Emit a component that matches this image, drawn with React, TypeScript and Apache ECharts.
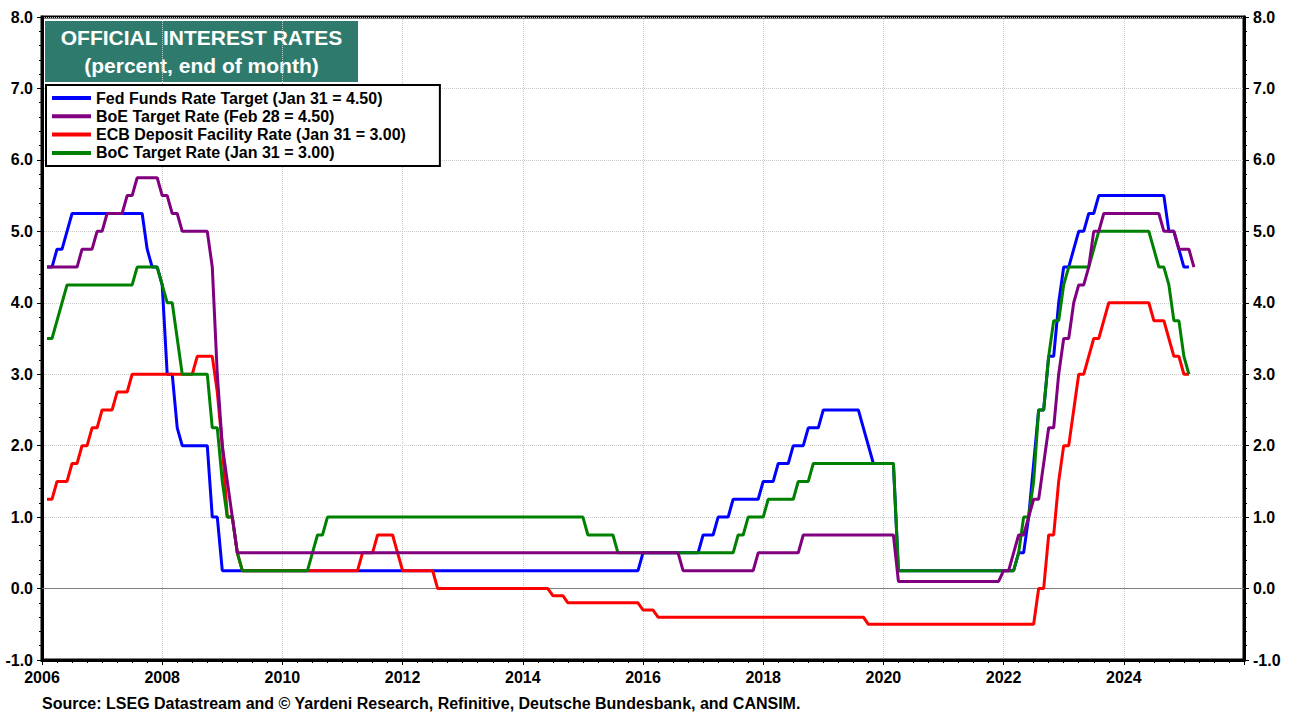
import React, { useEffect, useRef } from "react";
import * as echarts from "echarts";

// Month-end policy rates, encoded as runs: [first month "YYYY-MM", value held from that month on]
const fedRuns: [string, number][] = [
  ["2006-01", 4.5], ["2006-03", 4.75], ["2006-05", 5.0], ["2006-06", 5.25],
  ["2007-09", 4.75], ["2007-10", 4.5], ["2007-12", 4.25],
  ["2008-01", 3.0], ["2008-03", 2.25], ["2008-04", 2.0], ["2008-10", 1.0], ["2008-12", 0.25],
  ["2015-12", 0.5], ["2016-12", 0.75], ["2017-03", 1.0], ["2017-06", 1.25], ["2017-12", 1.5],
  ["2018-03", 1.75], ["2018-06", 2.0], ["2018-09", 2.25], ["2018-12", 2.5],
  ["2019-08", 2.25], ["2019-09", 2.0], ["2019-10", 1.75], ["2020-03", 0.25],
  ["2022-03", 0.5], ["2022-05", 1.0], ["2022-06", 1.75], ["2022-07", 2.5], ["2022-09", 3.25],
  ["2022-11", 4.0], ["2022-12", 4.5], ["2023-02", 4.75], ["2023-03", 5.0], ["2023-05", 5.25],
  ["2023-07", 5.5], ["2024-09", 5.0], ["2024-11", 4.75], ["2024-12", 4.5],
];
const fedEnd = "2025-01";

const boeRuns: [string, number][] = [
  ["2006-01", 4.5], ["2006-08", 4.75], ["2006-11", 5.0], ["2007-01", 5.25], ["2007-05", 5.5],
  ["2007-07", 5.75], ["2007-12", 5.5], ["2008-02", 5.25], ["2008-04", 5.0], ["2008-10", 4.5],
  ["2008-11", 3.0], ["2008-12", 2.0], ["2009-01", 1.5], ["2009-02", 1.0], ["2009-03", 0.5],
  ["2016-08", 0.25], ["2017-11", 0.5], ["2018-08", 0.75], ["2020-03", 0.1], ["2021-12", 0.25],
  ["2022-02", 0.5], ["2022-03", 0.75], ["2022-05", 1.0], ["2022-06", 1.25], ["2022-08", 1.75],
  ["2022-09", 2.25], ["2022-11", 3.0], ["2022-12", 3.5], ["2023-02", 4.0], ["2023-03", 4.25],
  ["2023-05", 4.5], ["2023-06", 5.0], ["2023-08", 5.25], ["2024-08", 5.0], ["2024-11", 4.75],
  ["2025-02", 4.5],
];
const boeEnd = "2025-02";

const ecbRuns: [string, number][] = [
  ["2006-01", 1.25], ["2006-03", 1.5], ["2006-06", 1.75], ["2006-08", 2.0], ["2006-10", 2.25],
  ["2006-12", 2.5], ["2007-03", 2.75], ["2007-06", 3.0], ["2008-07", 3.25], ["2008-11", 2.75],
  ["2008-12", 2.0], ["2009-01", 1.0], ["2009-03", 0.5], ["2009-04", 0.25],
  ["2011-04", 0.5], ["2011-07", 0.75], ["2011-11", 0.5], ["2011-12", 0.25], ["2012-07", 0.0],
  ["2014-06", -0.1], ["2014-09", -0.2], ["2015-12", -0.3], ["2016-03", -0.4], ["2019-09", -0.5],
  ["2022-07", 0.0], ["2022-09", 0.75], ["2022-11", 1.5], ["2022-12", 2.0], ["2023-02", 2.5],
  ["2023-03", 3.0], ["2023-05", 3.25], ["2023-06", 3.5], ["2023-08", 3.75], ["2023-09", 4.0],
  ["2024-06", 3.75], ["2024-09", 3.5], ["2024-10", 3.25], ["2024-12", 3.0],
];
const ecbEnd = "2025-01";

const bocRuns: [string, number][] = [
  ["2006-01", 3.5], ["2006-03", 3.75], ["2006-04", 4.0], ["2006-05", 4.25], ["2007-07", 4.5],
  ["2007-12", 4.25], ["2008-01", 4.0], ["2008-03", 3.5], ["2008-04", 3.0], ["2008-10", 2.25],
  ["2008-12", 1.5], ["2009-01", 1.0], ["2009-03", 0.5], ["2009-04", 0.25],
  ["2010-06", 0.5], ["2010-07", 0.75], ["2010-09", 1.0], ["2015-01", 0.75], ["2015-07", 0.5],
  ["2017-07", 0.75], ["2017-09", 1.0], ["2018-01", 1.25], ["2018-07", 1.5], ["2018-10", 1.75],
  ["2020-03", 0.25], ["2022-03", 0.5], ["2022-04", 1.0], ["2022-06", 1.5], ["2022-07", 2.5],
  ["2022-09", 3.25], ["2022-10", 3.75], ["2022-12", 4.25], ["2023-01", 4.5], ["2023-06", 4.75],
  ["2023-07", 5.0], ["2024-06", 4.75], ["2024-07", 4.5], ["2024-09", 4.25], ["2024-10", 3.75],
  ["2024-12", 3.25], ["2025-01", 3.0],
];
const bocEnd = "2025-01";

const seriesNames = [
  "Fed Funds Rate Target (Jan 31 = 4.50)",
  "BoE Target Rate (Feb 28 = 4.50)",
  "ECB Deposit Facility Rate (Jan 31 = 3.00)",
  "BoC Target Rate (Jan 31 = 3.00)",
];
const xTickYears = [2006, 2008, 2010, 2012, 2014, 2016, 2018, 2020, 2022, 2024];
const titleLines = ["OFFICIAL INTEREST RATES", "(percent, end of month)"];
const sourceText =
  "Source: LSEG Datastream and \u00A9 Yardeni Research, Refinitive, Deutsche Bundesbank, and CANSIM.";

const FONT = "'Liberation Sans', Arial, Helvetica, sans-serif";

function monthIdx(s: string): number {
  const [y, m] = s.split("-").map(Number);
  return y * 12 + (m - 1);
}

// expand runs to one point per month-end (x in decimal years)
function expand(runs: [string, number][], end: string): [number, number][] {
  const pts: [number, number][] = [];
  const endI = monthIdx(end);
  for (let r = 0; r < runs.length; r++) {
    const start = monthIdx(runs[r][0]);
    const stop = r + 1 < runs.length ? monthIdx(runs[r + 1][0]) - 1 : endI;
    for (let i = start; i <= stop; i++) {
      pts.push([Math.floor(i / 12) + ((i % 12) + 1) / 12, runs[r][1]]);
    }
  }
  return pts;
}

export default function App() {
  const ref = useRef<HTMLDivElement>(null);
  useEffect(() => {
    if (!ref.current) return;
    const chart = echarts.init(ref.current, undefined, { renderer: "svg" });
    const yAxisBase = {
      type: "value" as const,
      min: -1,
      max: 8,
      interval: 1,
      axisLine: { show: true, lineStyle: { color: "#000", width: 3 } },
      axisTick: { show: true, length: 5, lineStyle: { color: "#000", width: 1 } },
      minorTick: { show: true, splitNumber: 5, length: 3, lineStyle: { color: "#000", width: 1 } },
      axisLabel: {
        formatter: (v: number) => v.toFixed(1),
        color: "#000",
        fontWeight: "bold" as const,
        fontSize: 16,
        fontFamily: FONT,
        margin: 9,
      },
    };
    const line = (name: string, data: [number, number][], color: string, extra: any = {}) => ({
      name,
      type: "line",
      data,
      yAxisIndex: 0,
      showSymbol: false,
      symbol: "none",
      color,
      lineStyle: { color, width: 3 },
      ...extra,
    });
    chart.setOption({
      animation: false,
      backgroundColor: "#ffffff",
      grid: { left: 42, right: 48, top: 17, bottom: 55, show: true, borderColor: "#000", borderWidth: 3 },
      xAxis: {
        type: "value",
        min: 2006,
        max: 2026,
        interval: 2,
        axisLine: { show: true, onZero: false, lineStyle: { color: "#000", width: 3 } },
        axisTick: { show: true, length: 5, lineStyle: { color: "#000", width: 1 } },
        minorTick: { show: true, splitNumber: 8, length: 3, lineStyle: { color: "#000", width: 1 } },
        splitLine: { show: true, lineStyle: { color: "#c8c8c8", type: "dotted", width: 1 } },
        axisLabel: {
          formatter: (v: number) => (xTickYears.indexOf(v) >= 0 ? String(v) : ""),
          color: "#000",
          fontWeight: "bold",
          fontSize: 16,
          fontFamily: FONT,
          margin: 9,
        },
      },
      yAxis: [
        {
          ...yAxisBase,
          position: "left",
          splitLine: { show: true, lineStyle: { color: "#c8c8c8", type: "dotted", width: 1 } },
        },
        { ...yAxisBase, position: "right", splitLine: { show: false } },
      ],
      legend: {
        show: true,
        left: 46,
        top: 85,
        orient: "vertical",
        backgroundColor: "#fff",
        borderColor: "#000",
        borderWidth: 2,
        padding: [5, 34, 5, 6],
        itemGap: 2.3,
        itemWidth: 39,
        itemHeight: 4,
        icon: "rect",
        textStyle: { fontSize: 16, fontWeight: "bold", color: "#000", fontFamily: FONT, lineHeight: 16 },
        data: seriesNames,
      },
      graphic: [
        {
          type: "group",
          left: 45,
          top: 21,
          children: [
            { type: "rect", shape: { x: 0, y: 0, width: 313, height: 61 }, style: { fill: "#2e7b6e" } },
            {
              type: "text",
              x: 156.5,
              y: 16,
              style: {
                text: titleLines[0],
                fill: "#fff",
                fontSize: 21,
                fontWeight: "bold",
                fontFamily: FONT,
                align: "center",
                verticalAlign: "middle",
              },
            },
            {
              type: "text",
              x: 156.5,
              y: 44.5,
              style: {
                text: titleLines[1],
                fill: "#fff",
                fontSize: 21,
                fontWeight: "bold",
                fontFamily: FONT,
                align: "center",
                verticalAlign: "middle",
              },
            },
          ],
        },
        {
          type: "text",
          left: 42,
          top: 695,
          style: { text: sourceText, fill: "#000", fontSize: 16, fontWeight: "bold", fontFamily: FONT },
        },
      ],
      series: [
        line(seriesNames[0], expand(fedRuns, fedEnd), "#0000ff", {
          z: 2,
          markLine: {
            silent: true,
            z: 1,
            symbol: "none",
            label: { show: false },
            lineStyle: { color: "#808080", width: 1, type: "solid" },
            data: [{ yAxis: 0 }],
          },
        }),
        line(seriesNames[2], expand(ecbRuns, ecbEnd), "#ff0000", { z: 3 }),
        line(seriesNames[3], expand(bocRuns, bocEnd), "#008000", { z: 4 }),
        line(seriesNames[1], expand(boeRuns, boeEnd), "#800080", { z: 5 }),
      ],
    });
    return () => chart.dispose();
  }, []);
  return <div ref={ref} style={{ position: "absolute", left: 0, top: 0, width: 1292, height: 715 }} />;
}
